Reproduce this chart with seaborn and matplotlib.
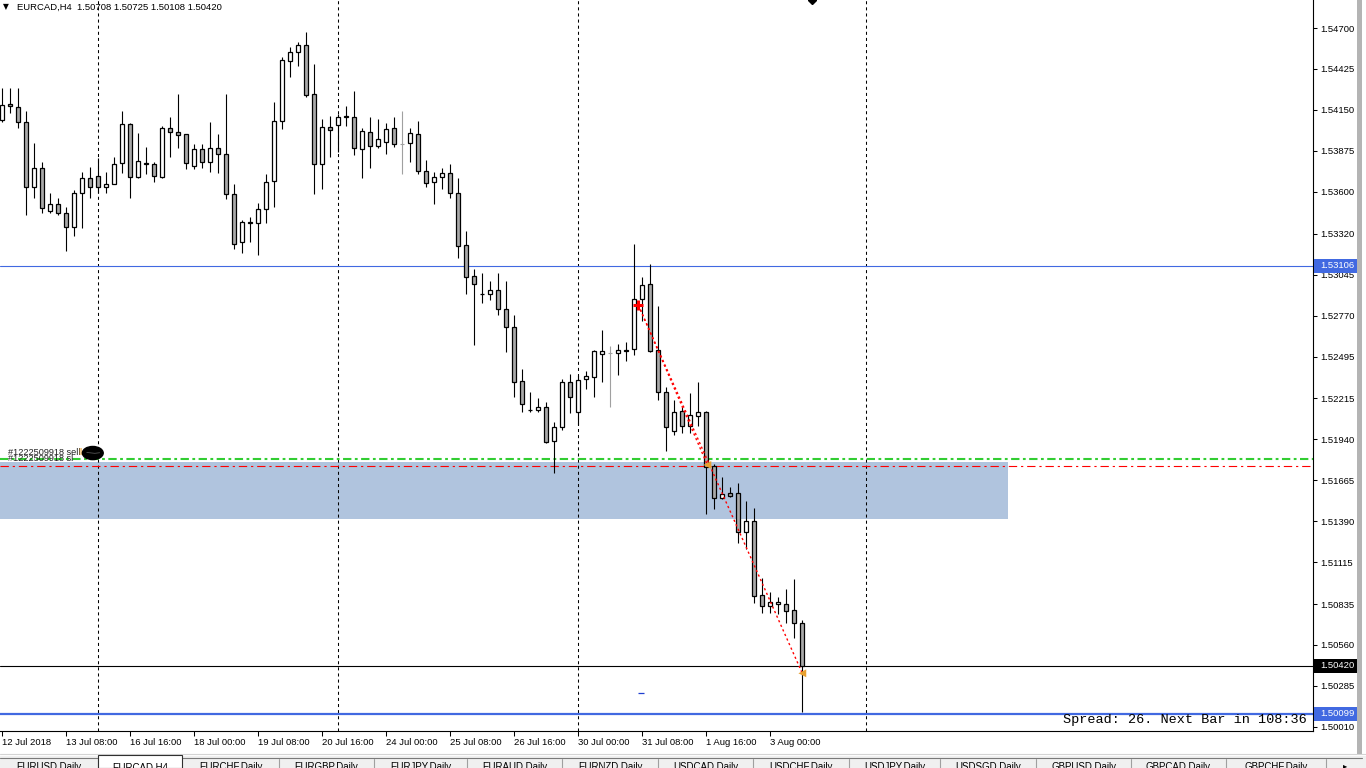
import numpy as np
import pandas as pd
import matplotlib
matplotlib.use("Agg")
import matplotlib.pyplot as plt
from matplotlib.patches import Rectangle, Ellipse
import seaborn as sns

# ---------------- data ----------------
symbol = "EURCAD,H4"
header_values = "1.50708 1.50725 1.50108 1.50420"

bar_open = [1.54083, 1.54187, 1.54170, 1.54069, 1.53633, 1.53761, 1.53472, 1.53519, 1.53459, 1.53365,
            1.53593, 1.53693, 1.53707, 1.53633, 1.53653, 1.53794, 1.54056, 1.53700, 1.53794, 1.53787,
            1.53700, 1.54029, 1.54002, 1.53989, 1.53774, 1.53888, 1.53801, 1.53895, 1.53855, 1.53586,
            1.53264, 1.53398, 1.53392, 1.53485, 1.53673, 1.54076, 1.54479, 1.54539, 1.54586, 1.54257,
            1.53787, 1.54036, 1.54049, 1.54109, 1.54103, 1.53888, 1.54002, 1.53908, 1.53935, 1.54029,
            1.53922, 1.53928, 1.53989, 1.53740, 1.53667, 1.53700, 1.53727, 1.53593, 1.53244, 1.53036,
            1.52915, 1.52915, 1.52942, 1.52814, 1.52694, 1.52331, 1.52137, 1.52137, 1.52157, 1.51929,
            1.52023, 1.52325, 1.52123, 1.52345, 1.52358, 1.52513, 1.52519, 1.52519, 1.52539, 1.52546,
            1.52882, 1.52982, 1.52539, 1.52258, 1.51996, 1.52130, 1.52029, 1.52096, 1.52123, 1.51761,
            1.51546, 1.51580, 1.51580, 1.51318, 1.51392, 1.50895, 1.50822, 1.50835, 1.50835, 1.50795,
            1.50708]
bar_high = [1.54297, 1.54297, 1.54297, 1.54143, 1.53928, 1.53801, 1.53593, 1.53559, 1.53499, 1.53613,
            1.53734, 1.53767, 1.53828, 1.53734, 1.53834, 1.54143, 1.54062, 1.53995, 1.53901, 1.53801,
            1.54042, 1.54103, 1.54257, 1.53992, 1.53922, 1.53922, 1.54069, 1.53989, 1.54257, 1.53653,
            1.53412, 1.53432, 1.53526, 1.53720, 1.54203, 1.54505, 1.54572, 1.54606, 1.54673, 1.54458,
            1.54089, 1.54109, 1.54123, 1.54177, 1.54277, 1.54029, 1.54103, 1.54089, 1.54062, 1.54103,
            1.54143, 1.54029, 1.54076, 1.53814, 1.53734, 1.53761, 1.53787, 1.53693, 1.53338, 1.53083,
            1.53056, 1.53002, 1.53056, 1.53002, 1.52774, 1.52412, 1.52258, 1.52217, 1.52190, 1.52056,
            1.52345, 1.52378, 1.52372, 1.52398, 1.52540, 1.52674, 1.52566, 1.52580, 1.52593, 1.53251,
            1.53029, 1.53116, 1.52835, 1.52291, 1.52204, 1.52157, 1.52251, 1.52325, 1.52128, 1.51774,
            1.51687, 1.51620, 1.51647, 1.51526, 1.51479, 1.51009, 1.50916, 1.50882, 1.50936, 1.51003,
            1.50725]
bar_low = [1.54069, 1.54130, 1.54029, 1.53445, 1.53559, 1.53459, 1.53459, 1.53445, 1.53204, 1.53304,
           1.53358, 1.53559, 1.53593, 1.53593, 1.53650, 1.53727, 1.53559, 1.53693, 1.53720, 1.53667,
           1.53693, 1.53834, 1.53895, 1.53754, 1.53754, 1.53761, 1.53734, 1.53727, 1.53553, 1.53217,
           1.53190, 1.53264, 1.53177, 1.53392, 1.53499, 1.54022, 1.54371, 1.54445, 1.54237, 1.53586,
           1.53620, 1.53834, 1.53868, 1.54042, 1.53848, 1.53693, 1.53761, 1.53895, 1.53855, 1.53901,
           1.53720, 1.53801, 1.53720, 1.53633, 1.53519, 1.53620, 1.53559, 1.53157, 1.52915, 1.52573,
           1.52855, 1.52875, 1.52774, 1.52526, 1.52224, 1.52123, 1.52123, 1.52123, 1.51918, 1.51714,
           1.52003, 1.52117, 1.52036, 1.52278, 1.52224, 1.52325, 1.52157, 1.52372, 1.52466, 1.52506,
           1.52734, 1.52525, 1.52204, 1.51862, 1.51969, 1.51982, 1.51982, 1.52029, 1.51439, 1.51472,
           1.51540, 1.51553, 1.51244, 1.51204, 1.50842, 1.50775, 1.50775, 1.50768, 1.50708, 1.50607,
           1.50108]
bar_close = [1.54183, 1.54177, 1.54069, 1.53633, 1.53761, 1.53492, 1.53519, 1.53459, 1.53365, 1.53593,
             1.53693, 1.53633, 1.53633, 1.53653, 1.53787, 1.54056, 1.53700, 1.53808, 1.53787, 1.53707,
             1.54029, 1.54002, 1.53982, 1.53794, 1.53888, 1.53801, 1.53895, 1.53855, 1.53586, 1.53251,
             1.53398, 1.53392, 1.53485, 1.53667, 1.54076, 1.54485, 1.54539, 1.54586, 1.54250, 1.53787,
             1.54036, 1.54016, 1.54103, 1.54103, 1.53895, 1.54009, 1.53908, 1.53955, 1.54022, 1.53922,
             1.53922, 1.53995, 1.53740, 1.53660, 1.53700, 1.53727, 1.53593, 1.53237, 1.53029, 1.52982,
             1.52912, 1.52942, 1.52814, 1.52694, 1.52325, 1.52177, 1.52134, 1.52157, 1.51922, 1.52023,
             1.52325, 1.52224, 1.52338, 1.52365, 1.52533, 1.52533, 1.52519, 1.52539, 1.52536, 1.52882,
             1.52976, 1.52533, 1.52258, 1.52023, 1.52123, 1.52029, 1.52103, 1.52123, 1.51754, 1.51546,
             1.51573, 1.51560, 1.51318, 1.51392, 1.50889, 1.50822, 1.50848, 1.50848, 1.50788, 1.50708,
             1.50420]

time_ticks = [0, 8, 16, 24, 32, 40, 48, 56, 64, 72, 80, 88, 96]
time_labels = ["12 Jul 2018", "13 Jul 08:00", "16 Jul 16:00", "18 Jul 00:00", "19 Jul 08:00",
               "20 Jul 16:00", "24 Jul 00:00", "25 Jul 08:00", "26 Jul 16:00", "30 Jul 00:00",
               "31 Jul 08:00", "1 Aug 16:00", "3 Aug 00:00"]
week_separators = [12, 42, 72, 108]
price_ticks = [1.54700, 1.54425, 1.54150, 1.53875, 1.53600, 1.53320, 1.53045, 1.52770, 1.52495,
               1.52215, 1.51940, 1.51665, 1.51390, 1.51115, 1.50835, 1.50560, 1.50285, 1.50010]

current_price = 1.50420
level_high = 1.53106
level_low = 1.50099
entry_level = 1.51810
sl_level = 1.51759
zone_top = 1.51790
zone_bottom = 1.51407
zone_end_bar = 125.75
trade_open_x = 79.54
trade_open_y = 1.52841
trade_close_x = [88.17, 100.04]
trade_close_y = [1.51768, 1.50370]
order_labels = ["#1222509918 sell", "#1222509918 sl"]
order_label_prices = [1.51851, 1.51811]
spread_text = "Spread: 26. Next Bar in 108:36"
tab_names = ["EURUSD,Daily", "EURCAD,H4", "EURCHF,Daily", "EURGBP,Daily", "EURJPY,Daily",
             "EURAUD,Daily", "EURNZD,Daily", "USDCAD,Daily", "USDCHF,Daily", "USDJPY,Daily",
             "USDSGD,Daily", "GBPUSD,Daily", "GBPCAD,Daily", "GBPCHF,Daily"]
active_tab = 1

# ---------------- layout ----------------
W, H = 1366, 768
AX_R, AX_B = 1313, 731
PX = 0.0000671              # price per pixel
Y_TOP = 1.5488788
BAR_PX = 8.0
X_MIN = -0.25
tab_edges = [0, 98, 182, 279, 374, 467, 562, 658, 753, 849, 940, 1036, 1131, 1226, 1326]

sns.set_theme(style="white")
plt.rcParams['font.family'] = ['Liberation Sans', 'DejaVu Sans']
plt.rcParams['lines.scale_dashes'] = False

fig = plt.figure(figsize=(W / 100, H / 100), dpi=100)
fig.patch.set_facecolor('white')
ax = fig.add_axes([0, 1 - AX_B / H, AX_R / W, AX_B / H])
ax.set_facecolor('white')
ax.set_xlim(X_MIN, X_MIN + AX_R / BAR_PX)
ax.set_ylim(Y_TOP - AX_B * PX, Y_TOP)


def fx(px):
    return px / W


def fy(py):
    return 1 - py / H


def price_to_py(p):
    return (Y_TOP - p) / PX


df = pd.DataFrame({"o": bar_open, "h": bar_high, "l": bar_low, "c": bar_close})
df["i"] = np.arange(len(df))
up = df[df.c > df.o]
dn = df[df.c < df.o]
eq = df[df.c == df.o]
ne = df[df.c != df.o]

# zone rectangle
ax.add_patch(Rectangle((X_MIN - 2, zone_bottom), zone_end_bar - X_MIN + 2, zone_top - zone_bottom,
                       facecolor='#b0c4de', edgecolor='none', zorder=0.5))

# week separators
for s in week_separators:
    ax.axvline(s, color='black', lw=0.75, linestyle=(0, (2.2, 2.2)), zorder=1)

# horizontal levels
ax.axhline(level_high, color='#4169e1', lw=0.8, zorder=1.2)
ax.axhline(current_price, color='black', lw=0.8, zorder=1.2)
ax.axhline(level_low, color='#4169e1', lw=1.6, zorder=1.2)
ax.axhline(entry_level, color='#32cd32', lw=1.5, linestyle=(0, (6, 2.5, 2, 2.5)), zorder=1.3)
ax.axhline(sl_level, color='#ff0000', lw=0.8, linestyle=(0, (6, 2.8, 1.6, 2.8)), zorder=1.3)

# candles
ax.vlines(ne.i, ne.l, ne.h, color='black', lw=0.8, zorder=3)
ax.vlines(eq.i, eq.l, eq.h, color='#a0a0a0', lw=0.8, zorder=3)
ax.hlines(eq.o, eq.i - 0.3, eq.i + 0.3, color='#a0a0a0', lw=0.8, zorder=4)
ax.bar(up.i, up.c - up.o, bottom=up.o, width=0.5, color='white', edgecolor='black', lw=0.9, zorder=4)
ax.bar(dn.i, dn.o - dn.c, bottom=dn.c, width=0.5, color='#a9a9a9', edgecolor='black', lw=0.9, zorder=4)

# trade history lines
for cx, cy in zip(trade_close_x, trade_close_y):
    sns.lineplot(x=[trade_open_x, cx], y=[trade_open_y, cy], ax=ax, color='#ff0000', lw=1.0,
                 linestyle=(0, (1.6, 2.0)), sort=False, estimator=None, zorder=5)
sns.scatterplot(x=trade_close_x, y=trade_close_y, ax=ax, marker='<', color='#e8a030', s=32,
                edgecolor='none', zorder=6)
ax.plot([trade_open_x], [trade_open_y], marker='+', color='#ff0000', ms=7, mew=2.2, zorder=6)
ax.hlines(1.50238, trade_open_x - 0.1, trade_open_x + 0.7, color='#1f3fd0', lw=0.9, zorder=5)
ax.plot([101.25], [Y_TOP], marker='D', color='black', ms=4, zorder=6, clip_on=True)

# order labels + scribble
for txt, p in zip(order_labels, order_label_prices):
    ax.text(0.75, p, txt, fontsize=6.6, color='#222222', va='center', ha='left', zorder=7)
ax.text(9.5, order_label_prices[0], "ll", fontsize=6.6, color='#e8a030', va='center', ha='left', zorder=7)
ax.add_patch(Ellipse((11.35, 1.51848), 2.6, 0.00088, facecolor='black', edgecolor='black', zorder=7))
ax.plot([10.6, 11.6, 12.2], [1.51852, 1.51846, 1.51850], color='#555555', lw=0.6, zorder=7.5)

# axes styling
for side in ['top', 'left']:
    ax.spines[side].set_visible(False)
for side in ['right', 'bottom']:
    ax.spines[side].set_color('black')
    ax.spines[side].set_linewidth(0.8)
ax.grid(False)
ax.yaxis.tick_right()
ax.set_yticks(price_ticks)
ax.set_yticklabels([f"{p:.5f}" for p in price_ticks])
ax.tick_params(axis='y', direction='out', length=2.9, width=0.75, pad=2.2, labelsize=6.8,
               colors='black', right=True, left=False)
ax.set_xticks(time_ticks)
ax.set_xticklabels(time_labels, ha='left')
ax.tick_params(axis='x', direction='out', length=3.6, width=0.75, pad=1.2, labelsize=6.8,
               colors='black', bottom=True)
ax.set_xlabel('')
ax.set_ylabel('')

# header
fig.text(fx(3), fy(7), "▼", fontsize=5.5, color='black', va='center', ha='left',
         family=['DejaVu Sans'])
fig.text(fx(17), fy(7), f"{symbol}  {header_values}", fontsize=6.8, color='black',
         va='center', ha='left')

# spread text
fig.text(fx(1063), fy(720), spread_text, fontsize=9.7, color='black', va='center', ha='left',
         family=['Liberation Mono', 'DejaVu Sans Mono'])

# right-axis price boxes
for p, col in [(level_high, '#4169e1'), (current_price, 'black'), (level_low, '#4169e1')]:
    py = price_to_py(p)
    fig.add_artist(Rectangle((fx(AX_R + 1), fy(py + 7)), 43 / W, 14 / H, transform=fig.transFigure,
                             facecolor=col, edgecolor='none', zorder=5))
    fig.text(fx(1320), fy(py), f"{p:.5f}", fontsize=6.8, color='white', va='center', ha='left',
             zorder=6)

# window frame bar on the right
fig.add_artist(Rectangle((fx(1357), fy(754)), 5 / W, 754 / H, transform=fig.transFigure,
                         facecolor='#b4b4b4', edgecolor='none', zorder=4))

# bottom tab strip
fig.add_artist(Rectangle((0, 0), 1, 12 / H, transform=fig.transFigure,
                         facecolor='#f0f0f0', edgecolor='none', zorder=3))
fig.add_artist(plt.Line2D([0, 1], [fy(754), fy(754)], transform=fig.transFigure,
                          color='#d4d4d4', lw=0.8, zorder=4))
fig.add_artist(plt.Line2D([0, fx(1362)], [fy(757.5), fy(757.5)], transform=fig.transFigure,
                          color='#7a7a7a', lw=0.8, zorder=4))
for k, name in enumerate(tab_names):
    x0, x1 = tab_edges[k], tab_edges[k + 1]
    if k == active_tab:
        fig.add_artist(Rectangle((fx(x0), 0), (x1 - x0) / W, 13 / H, transform=fig.transFigure,
                                 facecolor='white', edgecolor='#303030', lw=0.8, zorder=5))
    else:
        fig.add_artist(plt.Line2D([fx(x1), fx(x1)], [0, fy(759)], transform=fig.transFigure,
                                  color='#a0a0a0', lw=0.8, zorder=4))
    fig.text(fx((x0 + x1) / 2), fy(767), name, fontsize=7, color='black', va='center',
             ha='center', zorder=6)
fig.text(fx(1343), fy(766), "▸", fontsize=6, color='black', va='center', ha='left',
         family=['DejaVu Sans'], zorder=6)

fig.savefig("out.png", dpi=100, facecolor='white')
